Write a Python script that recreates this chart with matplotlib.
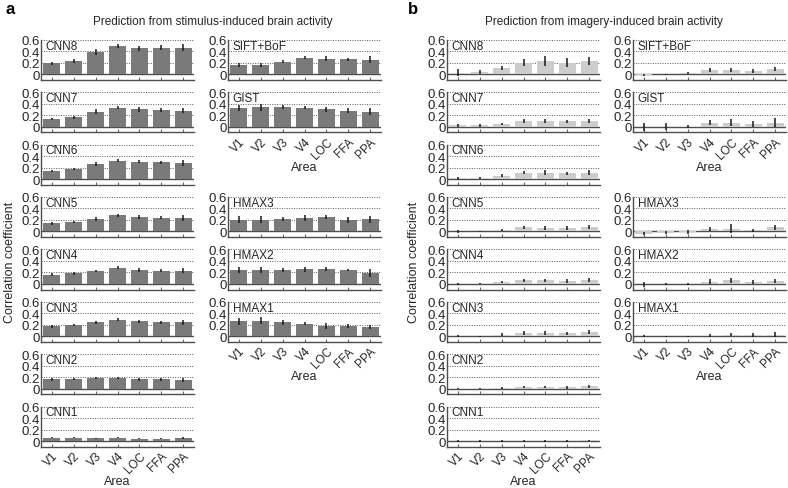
import matplotlib.pyplot as plt
import numpy as np

plt.rcParams['font.family'] = ['Liberation Sans', 'DejaVu Sans']

areas = ["V1", "V2", "V3", "V4", "LOC", "FFA", "PPA"]

# panel a: stimulus-induced
stim_cnn = {
    "CNN8": [0.19, 0.23, 0.39, 0.49, 0.45, 0.46, 0.46],
    "CNN7": [0.13, 0.16, 0.26, 0.33, 0.30, 0.29, 0.28],
    "CNN6": [0.14, 0.17, 0.26, 0.32, 0.30, 0.29, 0.28],
    "CNN5": [0.14, 0.16, 0.22, 0.28, 0.25, 0.24, 0.24],
    "CNN4": [0.16, 0.18, 0.22, 0.28, 0.24, 0.23, 0.23],
    "CNN3": [0.17, 0.20, 0.24, 0.29, 0.26, 0.24, 0.24],
    "CNN2": [0.16, 0.17, 0.18, 0.19, 0.16, 0.16, 0.15],
    "CNN1": [0.06, 0.06, 0.05, 0.06, 0.04, 0.04, 0.05],
}
stim_cnn_err = {
    "CNN8": [0.03, 0.04, 0.05, 0.03, 0.04, 0.04, 0.06],
    "CNN7": [0.02, 0.03, 0.04, 0.03, 0.04, 0.03, 0.05],
    "CNN6": [0.02, 0.02, 0.04, 0.03, 0.03, 0.03, 0.05],
    "CNN5": [0.02, 0.02, 0.03, 0.03, 0.03, 0.03, 0.05],
    "CNN4": [0.02, 0.02, 0.02, 0.03, 0.03, 0.03, 0.05],
    "CNN3": [0.03, 0.02, 0.03, 0.03, 0.03, 0.03, 0.05],
    "CNN2": [0.03, 0.02, 0.02, 0.02, 0.03, 0.03, 0.04],
    "CNN1": [0.01, 0.01, 0.01, 0.01, 0.01, 0.01, 0.02],
}
stim_other = {
    "SIFT+BoF": [0.16, 0.16, 0.22, 0.29, 0.27, 0.26, 0.25],
    "GIST": [0.33, 0.34, 0.34, 0.33, 0.30, 0.28, 0.26],
    "HMAX3": [0.20, 0.20, 0.22, 0.23, 0.25, 0.20, 0.21],
    "HMAX2": [0.24, 0.24, 0.24, 0.25, 0.26, 0.24, 0.19],
    "HMAX1": [0.26, 0.27, 0.24, 0.22, 0.18, 0.18, 0.16],
}
stim_other_err = {
    "SIFT+BoF": [0.04, 0.04, 0.03, 0.03, 0.04, 0.03, 0.06],
    "GIST": [0.05, 0.06, 0.04, 0.03, 0.04, 0.04, 0.06],
    "HMAX3": [0.06, 0.06, 0.03, 0.05, 0.03, 0.05, 0.06],
    "HMAX2": [0.05, 0.05, 0.04, 0.04, 0.04, 0.02, 0.07],
    "HMAX1": [0.06, 0.06, 0.04, 0.03, 0.05, 0.03, 0.04],
}

# panel b: imagery-induced
imag_cnn = {
    "CNN8": [0.03, 0.04, 0.11, 0.20, 0.23, 0.20, 0.23],
    "CNN7": [0.02, 0.02, 0.05, 0.10, 0.10, 0.09, 0.10],
    "CNN6": [0.01, 0.02, 0.06, 0.11, 0.11, 0.10, 0.11],
    "CNN5": [0.00, 0.00, 0.03, 0.07, 0.06, 0.06, 0.08],
    "CNN4": [0.00, 0.00, 0.03, 0.06, 0.06, 0.05, 0.07],
    "CNN3": [0.00, 0.00, 0.03, 0.06, 0.06, 0.05, 0.07],
    "CNN2": [0.00, 0.00, 0.01, 0.03, 0.03, 0.02, 0.04],
    "CNN1": [0.00, 0.00, 0.00, 0.00, 0.00, 0.00, 0.01],
}
imag_cnn_err = {
    "CNN8": [0.06, 0.04, 0.04, 0.06, 0.09, 0.08, 0.07],
    "CNN7": [0.03, 0.03, 0.02, 0.03, 0.03, 0.03, 0.03],
    "CNN6": [0.02, 0.02, 0.02, 0.03, 0.04, 0.03, 0.04],
    "CNN5": [0.02, 0.01, 0.02, 0.03, 0.03, 0.03, 0.03],
    "CNN4": [0.02, 0.01, 0.02, 0.03, 0.03, 0.03, 0.03],
    "CNN3": [0.02, 0.01, 0.02, 0.03, 0.03, 0.03, 0.03],
    "CNN2": [0.01, 0.01, 0.01, 0.02, 0.02, 0.02, 0.03],
    "CNN1": [0.01, 0.01, 0.01, 0.01, 0.01, 0.01, 0.01],
}
imag_other = {
    "SIFT+BoF": [-0.01, 0.00, 0.02, 0.07, 0.07, 0.06, 0.09],
    "GIST": [0.00, 0.00, 0.00, 0.07, 0.07, 0.05, 0.07],
    "HMAX3": [-0.04, -0.02, -0.01, 0.04, 0.05, 0.02, 0.07],
    "HMAX2": [-0.01, 0.00, 0.00, 0.04, 0.06, 0.03, 0.05],
    "HMAX1": [0.00, 0.00, 0.00, 0.01, 0.03, 0.02, 0.03],
}
imag_other_err = {
    "SIFT+BoF": [0.02, 0.01, 0.02, 0.03, 0.03, 0.03, 0.04],
    "GIST": [0.07, 0.06, 0.02, 0.05, 0.06, 0.05, 0.08],
    "HMAX3": [0.03, 0.02, 0.03, 0.04, 0.08, 0.03, 0.04],
    "HMAX2": [0.04, 0.02, 0.02, 0.04, 0.04, 0.04, 0.04],
    "HMAX1": [0.02, 0.01, 0.01, 0.03, 0.03, 0.03, 0.04],
}

W, H = 788, 489
fig = plt.figure(figsize=(W / 100, H / 100), dpi=100)

ROW_TOP0 = 40.7
ROW_PITCH = 52.4
AX_H = 40.3
AX_W = 153


def make_ax(x_px, row):
    top = ROW_TOP0 + ROW_PITCH * row
    return fig.add_axes([x_px / W, 1 - (top + AX_H) / H, AX_W / W, AX_H / H])


def draw(ax, name, vals, errs, color, show_xlabels):
    x = np.arange(len(areas))
    for g in (0.2, 0.4, 0.6):
        ax.axhline(g, color='0.35', lw=0.7, ls=(0, (1, 1.5)), zorder=0, clip_on=False)
    ax.axhline(0, color='0.3', lw=1.0, zorder=1)
    ax.bar(x, vals, width=0.78, color=color, zorder=2)
    ax.errorbar(x, vals, yerr=errs, fmt='none', ecolor='0.1', elinewidth=1.1,
                capsize=0, zorder=3)
    ax.set_xlim(-0.5, 6.5)
    ax.set_ylim(-0.1, 0.6)
    ax.set_yticks([0, 0.2, 0.4, 0.6])
    ax.set_yticklabels(["0", "0.2", "0.4", "0.6"])
    for s in ('top', 'right'):
        ax.spines[s].set_visible(False)
    for s in ('left', 'bottom'):
        ax.spines[s].set_color('0.3')
        ax.spines[s].set_linewidth(1.0)
    ax.tick_params(axis='y', length=0, pad=1.0, labelsize=9.5, colors='0.15')
    ax.tick_params(axis='x', direction='in', length=2, width=0.8, color='0.4',
                   labelsize=8.5, labelcolor='0.15', pad=2)
    ax.set_xticks(x)
    if show_xlabels:
        ax.set_xticklabels(areas, rotation=45, ha='right', rotation_mode='anchor')
        ax.set_xlabel("Area", fontsize=9, color='0.15', labelpad=0)
    else:
        ax.set_xticklabels([])
    ax.text(0.03, 0.6, name, transform=ax.get_yaxis_transform(), fontsize=8.5,
            color='0.15', va='top', ha='left')


cnn_names = ["CNN8", "CNN7", "CNN6", "CNN5", "CNN4", "CNN3", "CNN2", "CNN1"]
other_rows = [("SIFT+BoF", 0), ("GIST", 1), ("HMAX3", 3), ("HMAX2", 4), ("HMAX1", 5)]

panels = [
    (41, 228, stim_cnn, stim_cnn_err, stim_other, stim_other_err, '0.48'),
    (447, 633, imag_cnn, imag_cnn_err, imag_other, imag_other_err, '0.8'),
]
for xl, xr, cv, ce, ov, oe, col in panels:
    for i, n in enumerate(cnn_names):
        ax = make_ax(xl, i)
        draw(ax, n, cv[n], ce[n], col, i == 7)
    for n, r in other_rows:
        ax = make_ax(xr, r)
        draw(ax, n, ov[n], oe[n], col, r in (1, 5))

fig.text(5 / W, 1 - 10 / H, "a", fontsize=12, fontweight='bold', va='center')
fig.text(408 / W, 1 - 10 / H, "b", fontsize=12, fontweight='bold', va='center')
fig.text(213 / W, 1 - 22 / H, "Prediction from stimulus-induced brain activity",
         fontsize=8.5, ha='center', va='center', color='0.15')
fig.text(604 / W, 1 - 22 / H, "Prediction from imagery-induced brain activity",
         fontsize=8.5, ha='center', va='center', color='0.15')
fig.text(10 / W, 1 - 262 / H, "Correlation coefficient", rotation=90, fontsize=9,
         ha='center', va='center', color='0.15')
fig.text(414 / W, 1 - 262 / H, "Correlation coefficient", rotation=90, fontsize=9,
         ha='center', va='center', color='0.15')

fig.savefig("out.png", dpi=100)
